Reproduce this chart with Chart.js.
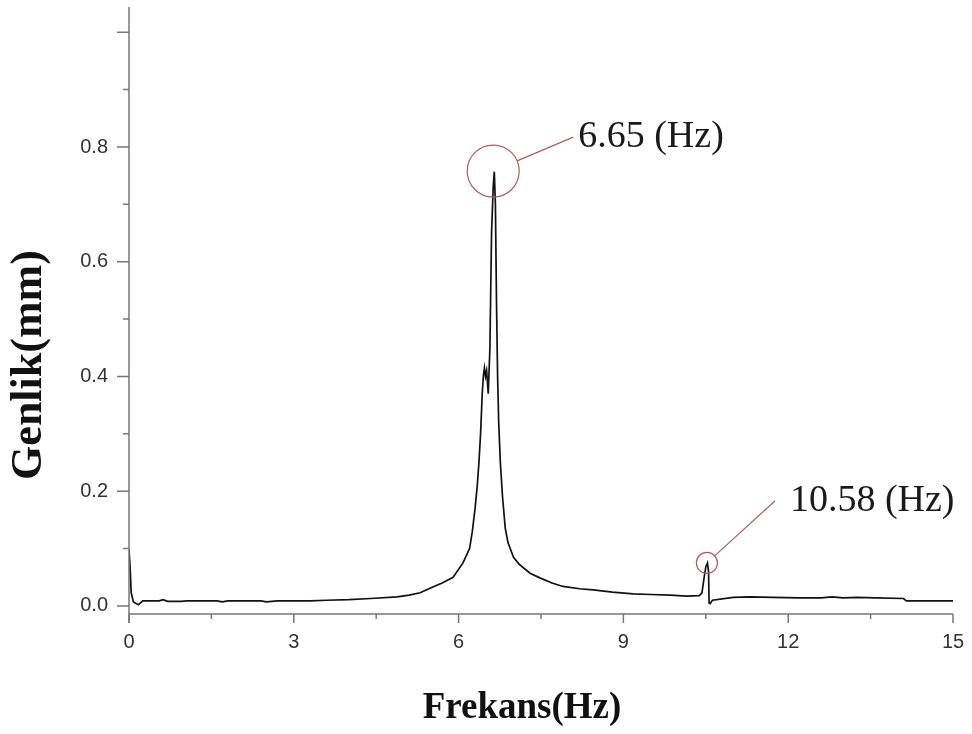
<!DOCTYPE html>
<html>
<head>
<meta charset="utf-8">
<script src="https://cdn.jsdelivr.net/npm/chart.js@4.4.1/dist/chart.umd.min.js"></script>
<style>
  html, body { margin: 0; padding: 0; background: #fff; }
  #wrap { width: 972px; height: 734px; position: relative; }
</style>
</head>
<body>
<div id="wrap"><canvas id="spectrum"></canvas></div>
<script>
// Spectrum
const freq = [
  0.00, 0.02, 0.04, 0.08, 0.17, 0.25, 0.55, 0.62, 0.70, 0.95, 1.05, 1.60, 1.70, 1.80,
  2.40, 2.50, 2.70, 3.00, 3.30, 3.60, 4.00, 4.40, 4.88, 5.10, 5.30, 5.48, 5.70, 5.90,
  6.08, 6.20, 6.25, 6.30, 6.34, 6.37, 6.40, 6.43, 6.45, 6.47, 6.49, 6.51, 6.54, 6.57,
  6.60, 6.63, 6.65, 6.67, 6.69, 6.71, 6.73, 6.76, 6.80, 6.85, 6.90, 7.00, 7.10, 7.30,
  7.48, 7.70, 7.90, 8.20, 8.45, 8.80, 9.18, 9.50, 9.85, 10.15, 10.38, 10.43, 10.47,
  10.50, 10.53, 10.55, 10.56, 10.58, 10.62, 11.00, 11.30, 11.72, 12.20, 12.60, 12.80,
  13.00, 13.25, 13.60, 14.10, 14.15, 15.00
];
const amp = [
  0.098, 0.068, 0.023, 0.007, 0.002, 0.009, 0.009, 0.011, 0.008, 0.008, 0.009, 0.009, 0.007, 0.009,
  0.009, 0.007, 0.009, 0.009, 0.009, 0.010, 0.011, 0.013, 0.016, 0.019, 0.023, 0.031, 0.040, 0.050,
  0.075, 0.100, 0.130, 0.170, 0.210, 0.250, 0.300, 0.370, 0.400, 0.415, 0.400, 0.410, 0.370, 0.450,
  0.650, 0.730, 0.757, 0.700, 0.530, 0.400, 0.320, 0.250, 0.190, 0.135, 0.110, 0.085, 0.073, 0.057,
  0.049, 0.040, 0.034, 0.030, 0.028, 0.024, 0.021, 0.020, 0.019, 0.017, 0.018, 0.023, 0.050,
  0.068, 0.075, 0.060, 0.005, 0.004, 0.010, 0.015, 0.016, 0.015, 0.014, 0.014, 0.016,
  0.014, 0.015, 0.014, 0.013, 0.009, 0.009
];

const xMajor = [0, 3, 6, 9, 12, 15];
const xMinor = [1.5, 4.5, 7.5, 10.5, 13.5];
const yLabelled = [0, 0.2, 0.4, 0.6, 0.8];
const yMajor = [0, 0.2, 0.4, 0.6, 0.8, 1.0];
const yMinor = [0.1, 0.3, 0.5, 0.7, 0.9];

// peak call-outs
const peakFreq = [6.63, 10.52];
const peakAmp = [0.758, 0.075];
const peakText = ['6.65 (Hz)', '10.58 (Hz)'];

const AXIS_COLOR = '#777';
const NOTE_COLOR = '#b05c5c';

// axes, ticks, titles and call-outs
const decorPlugin = {
  id: 'decor',
  afterDraw(chart) {
    const { ctx, chartArea: a, scales: { x, y } } = chart;
    ctx.save();
    ctx.strokeStyle = AXIS_COLOR;
    ctx.lineWidth = 1.5;

    // axis lines
    ctx.beginPath();
    ctx.moveTo(a.left, a.top);
    ctx.lineTo(a.left, a.bottom + 9);
    ctx.moveTo(a.left, a.bottom);
    ctx.lineTo(a.right, a.bottom);
    ctx.stroke();

    // x ticks
    ctx.beginPath();
    xMajor.forEach(v => { const p = x.getPixelForValue(v); ctx.moveTo(p, a.bottom); ctx.lineTo(p, a.bottom + 9); });
    xMinor.forEach(v => { const p = x.getPixelForValue(v); ctx.moveTo(p, a.bottom); ctx.lineTo(p, a.bottom + 5); });
    // y ticks
    yMajor.forEach(v => { const p = y.getPixelForValue(v); ctx.moveTo(a.left, p); ctx.lineTo(a.left - 12, p); });
    yMinor.forEach(v => { const p = y.getPixelForValue(v); ctx.moveTo(a.left, p); ctx.lineTo(a.left - 6, p); });
    ctx.stroke();

    // call-outs
    const radius = [26, 10.5];
    const lead = [[80, -34], [68, -62]];
    const gap = [5, 15];
    ctx.font = '38px "Liberation Serif", "Times New Roman", serif';
    ctx.textBaseline = 'middle';
    ctx.textAlign = 'left';
    peakFreq.forEach((f, i) => {
      const cx = x.getPixelForValue(f);
      const cy = y.getPixelForValue(peakAmp[i]);
      const [dx, dy] = lead[i];
      const len = Math.hypot(dx, dy);
      ctx.strokeStyle = NOTE_COLOR;
      ctx.lineWidth = 1.2;
      ctx.beginPath();
      ctx.arc(cx, cy, radius[i], 0, Math.PI * 2);
      ctx.stroke();
      ctx.beginPath();
      ctx.moveTo(cx + dx / len * radius[i], cy + dy / len * radius[i]);
      ctx.lineTo(cx + dx, cy + dy);
      ctx.stroke();
      ctx.fillStyle = '#1a1a1a';
      ctx.fillText(peakText[i], cx + dx + gap[i], cy + dy);
    });

    // axis titles
    ctx.fillStyle = '#111';
    ctx.textAlign = 'center';
    ctx.font = 'bold 37px "Liberation Serif", "Times New Roman", serif';
    ctx.fillText('Frekans(Hz)', 522, 708);
    ctx.translate(30, 365);
    ctx.rotate(-Math.PI / 2);
    ctx.font = 'bold 44px "Liberation Serif", "Times New Roman", serif';
    ctx.fillText('Genlik(mm)', 0, 0);
    ctx.restore();
  }
};

function noPad(s) {
  s.paddingTop = 0;
  s.paddingBottom = 0;
  s.paddingLeft = 0;
  s.paddingRight = 0;
}

new Chart(document.getElementById('spectrum'), {
  type: 'line',
  data: {
    datasets: [{
      data: freq.map((f, i) => ({ x: f, y: amp[i] })),
      borderColor: '#111',
      borderWidth: 1.7,
      pointRadius: 0,
      tension: 0
    }]
  },
  options: {
    responsive: true,
    maintainAspectRatio: false,
    animation: false,
    layout: { padding: { top: 7, right: 19, left: 0, bottom: 0 } },
    plugins: { legend: { display: false }, tooltip: { enabled: false } },
    scales: {
      x: {
        type: 'linear',
        min: 0,
        max: 15,
        afterBuildTicks: s => { s.ticks = xMajor.map(v => ({ value: v })); },
        afterFit: s => { s.height = 120; noPad(s); },
        grid: { display: false, drawTicks: false },
        border: { display: false },
        ticks: {
          padding: 16,
          color: '#333',
          font: { family: 'Liberation Sans', size: 20 },
          callback: v => String(v)
        }
      },
      y: {
        type: 'linear',
        min: -0.014,
        max: 1.044,
        afterBuildTicks: s => { s.ticks = yLabelled.map(v => ({ value: v })); },
        afterFit: s => { s.width = 129; noPad(s); },
        grid: { display: false, drawTicks: false },
        border: { display: false },
        ticks: {
          padding: 21,
          color: '#333',
          font: { family: 'Liberation Sans', size: 20 },
          callback: v => v.toFixed(1)
        }
      }
    }
  },
  plugins: [decorPlugin]
});
</script>
</body>
</html>
